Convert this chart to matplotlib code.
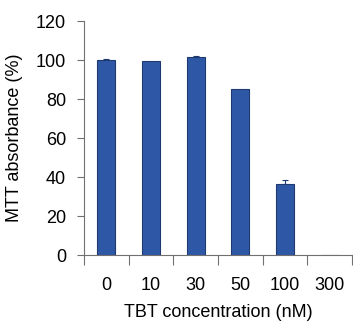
import matplotlib
matplotlib.use("Agg")
import matplotlib.pyplot as plt
import numpy as np

categories = ["0", "10", "30", "50", "100", "300"]
values = [100.0, 99.6, 101.6, 85.4, 36.3, 0.0]
errors = [0.7, 0.0, 0.7, 0.0, 2.0, 0.0]
yticks = [0, 20, 40, 60, 80, 100, 120]

plt.rcParams['font.family'] = ['Liberation Sans', 'DejaVu Sans']

fig = plt.figure(figsize=(3.53, 3.23), dpi=100)
ax = fig.add_axes([0.238, 0.2105, 0.759, 0.724])

x = np.arange(len(categories))
bar_color = "#2E58A6"
ax.bar(x, values, width=0.4, color=bar_color, edgecolor="#1E3A70", linewidth=0.8, zorder=2)
for xi, v, e in zip(x, values, errors):
    if e > 0:
        ax.errorbar(xi, v, yerr=[[0], [e]], fmt="none", ecolor="#1E3A70",
                    elinewidth=0.8, capsize=2.5, capthick=0.8, zorder=3)

ax.set_xlim(-0.5, len(categories) - 0.5)
ax.set_ylim(0, 120)
ax.set_yticks(yticks)
ax.set_yticklabels([str(t) for t in yticks], fontsize=13)

ax.set_xticks(np.arange(-0.5, len(categories), 1.0))
ax.set_xticklabels([])
ax.set_xticks(x, minor=True)
ax.set_xticklabels(categories, minor=True, fontsize=13)
ax.tick_params(axis='x', which='minor', length=0, pad=16)
ax.tick_params(axis='x', which='major', length=7, width=0.8, color="#707070", direction='out')
ax.tick_params(axis='y', length=5, width=0.8, color="#707070", direction='out', pad=8)

for s in ["top", "right"]:
    ax.spines[s].set_visible(False)
for s in ["left", "bottom"]:
    ax.spines[s].set_color("#707070")
    ax.spines[s].set_linewidth(0.8)

ax.set_xlabel("TBT concentration (nM)", fontsize=13, va="center")
ax.xaxis.set_label_coords(0.5, -0.245)
ax.set_ylabel("MTT absorbance (%)", fontsize=13, va="center")
ax.yaxis.set_label_coords(-0.261, 0.5)

fig.savefig("out.png", dpi=100)
